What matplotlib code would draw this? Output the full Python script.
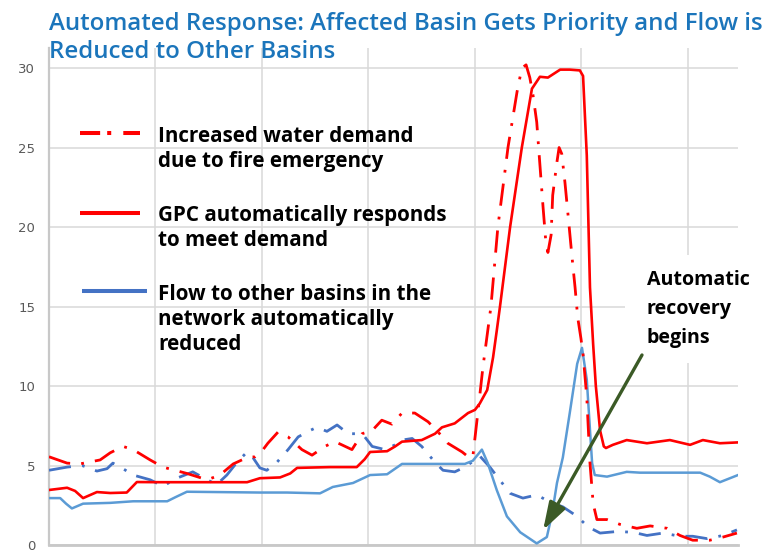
import matplotlib
matplotlib.use("Agg")
import matplotlib.pyplot as plt
from matplotlib.lines import Line2D
from matplotlib.patches import Rectangle

# ---------------- data (time steps, gridline every 20 steps) ----------------
demand_t = [0, 3.4, 5.8, 9.6, 11.5, 13.9, 15.8, 19.0, 21.4, 25.9, 29.7, 32.1, 34.6, 37.2,
            38.7, 40.2, 41.1, 43.0, 44.9, 47.5, 49.4, 51.8, 53.7, 55.0, 56.9, 58.8, 60.7,
            62.5, 64.4, 66.3, 68.7, 71.2, 73.1, 74.9, 77.6, 79.1, 79.6, 80.6, 81.5, 83.0,
            84.3, 86.2, 87.9, 88.8, 89.6, 90.3, 90.9, 91.6, 92.2, 92.8, 93.3, 93.7, 94.3,
            94.6, 95.4, 95.8, 96.3, 96.9, 97.5, 98.2, 98.8, 99.3, 99.9, 100.3, 101.0, 101.6,
            102.2, 102.9, 104.8, 107.2, 110.4, 112.9, 116.1, 118.5, 120.9, 124.1, 126.6, 129.2]
demand_v = [5.55, 5.15, 5.1, 5.35, 5.8, 6.2, 6.0, 5.35, 4.9, 4.5, 4.1, 4.4, 5.1, 5.5,
            5.55, 6.0, 6.4, 7.1, 6.8, 6.0, 5.65, 6.2, 6.5, 6.3, 6.0, 7.0, 7.2,
            7.85, 7.6, 8.3, 8.3, 7.75, 7.1, 6.4, 5.85, 5.45, 5.55, 8.5, 11.2, 15.0,
            20.0, 25.0, 28.5, 30.0, 30.2, 29.4, 28.3, 26.6, 23.9, 21.2, 19.1, 18.4, 19.5,
            22.0, 24.1, 25.0, 24.6, 22.8, 20.7, 18.2, 16.2, 14.3, 13.0, 12.0, 9.3, 5.15,
            2.6, 1.6, 1.6, 1.3, 1.05, 1.2, 1.05, 0.6, 0.3, 0.3, 0.5, 0.75]

gpc_t = [0, 3.4, 4.9, 6.4, 9.0, 11.5, 14.6, 16.5, 20.8, 28.4, 37.2, 39.6, 43.4, 45.3, 46.6,
         52.8, 57.8, 59.3, 60.3, 63.5, 65.0, 66.3, 70.0, 72.5, 73.8, 76.2, 78.7, 80.0, 80.9,
         82.3, 83.4, 84.1, 84.7, 86.6, 88.8, 90.7, 92.2, 93.7, 96.0, 97.8, 99.7, 100.3,
         101.0, 101.6, 102.2, 102.7, 103.5, 104.2, 104.6, 105.9, 108.5, 112.3, 116.6,
         120.4, 122.8, 126.0, 129.2]
gpc_v = [3.46, 3.6, 3.4, 2.95, 3.33, 3.27, 3.3, 3.96, 3.95, 3.95, 3.95, 4.2, 4.25, 4.5, 4.85,
         4.9, 4.9, 5.4, 5.85, 5.9, 6.2, 6.5, 6.6, 7.0, 7.4, 7.65, 8.3, 8.5, 8.9,
         9.75, 11.8, 13.5, 15.0, 20.0, 25.0, 28.7, 29.45, 29.4, 29.9, 29.9, 29.85, 29.5,
         24.5, 16.2, 12.6, 10.0, 7.2, 6.2, 6.1, 6.3, 6.6, 6.4, 6.6,
         6.3, 6.6, 6.4, 6.45]

flow_t = [0, 2.1, 3.2, 4.3, 6.4, 11.5, 15.8, 22.2, 23.7, 25.9, 39.6, 44.7, 50.9, 53.3, 57.1,
          60.3, 63.5, 66.3, 73.8, 78.1, 79.6, 81.3, 82.4, 84.1, 86.0, 88.5, 91.6, 93.5,
          94.5, 95.4, 96.5, 97.8, 99.2, 100.1, 101.0, 102.0, 102.5, 104.8, 108.5, 111.0,
          122.3, 124.1, 126.0, 129.4]
flow_v = [2.95, 2.95, 2.6, 2.3, 2.6, 2.65, 2.75, 2.75, 3.0, 3.35, 3.3, 3.3, 3.25, 3.65, 3.9,
          4.4, 4.45, 5.1, 5.1, 5.1, 5.3, 6.0, 5.15, 3.45, 1.8, 0.8, 0.1, 0.5,
          2.0, 3.9, 5.5, 8.3, 11.4, 12.4, 10.4, 5.15, 4.4, 4.3, 4.6, 4.55,
          4.55, 4.3, 3.95, 4.4]

other_t = [0, 3.4, 6.2, 9.0, 10.9, 12.0, 13.9, 15.8, 19.0, 21.4, 24.0, 27.0, 29.7, 31.5,
           33.4, 35.3, 37.2, 38.3, 39.6, 40.9, 42.8, 44.9, 46.8, 49.0, 50.3, 52.2, 54.1,
           56.2, 58.4, 59.3, 60.7, 63.1, 65.0, 66.3, 68.2, 70.0, 72.5, 74.0, 76.2, 78.1,
           80.0, 80.9, 82.8, 85.1, 86.6, 89.0, 91.6, 94.1, 96.5, 99.2, 101.2, 103.5,
           106.7, 109.7, 112.3, 115.3, 118.5, 120.9, 123.6, 126.6, 129.2]
other_v = [4.7, 4.9, 5.0, 4.65, 4.8, 5.15, 4.8, 4.4, 4.1, 3.7, 4.2, 4.6, 4.1, 3.8,
           4.4, 5.2, 5.85, 5.5, 4.85, 4.7, 5.2, 6.0, 6.8, 7.2, 7.4, 7.15, 7.55,
           7.0, 7.0, 6.8, 6.2, 6.0, 6.3, 6.6, 6.7, 6.2, 5.2, 4.7, 4.6, 4.9,
           5.35, 5.6, 4.9, 3.9, 3.25, 2.95, 3.15, 2.7, 2.4, 1.8, 1.15, 0.75,
           0.85, 0.8, 0.6, 0.75, 0.55, 0.55, 0.4, 0.6, 0.95]

y_ticks = [0, 5, 10, 15, 20, 25, 30]
x_grid = [20, 40, 60, 80, 100, 120]

title_lines = ["Automated Response: Affected Basin Gets Priority and Flow is",
               "Reduced to Other Basins"]
legend_entries = [
    ["Increased water demand", "due to fire emergency"],
    ["GPC automatically responds", "to meet demand"],
    ["Flow to other basins in the", "network automatically", "reduced"],
]
note_lines = ["Automatic", "recovery", "begins"]

# ---------------- figure ----------------
W, H = 770, 556
fig = plt.figure(figsize=(W / 100, H / 100), dpi=100, facecolor="white")


def fx(px):
    return px / W


def fy(py):
    return 1 - py / H


ax = fig.add_axes([fx(49), fy(545), fx(738) - fx(49), fy(48) - fy(545)])
ax.set_xlim(0, 129.4)
ax.set_ylim(0, 31.26)
ax.set_yticks(y_ticks)
ax.set_xticks(x_grid)
ax.set_xticklabels([])
ax.tick_params(axis="x", length=0)
ax.tick_params(axis="y", length=0, pad=10, labelsize=9.5, labelcolor="#595959")
ax.grid(True, color="#D9D9D9", lw=1.1)
ax.set_axisbelow(True)
for s in ["top", "right"]:
    ax.spines[s].set_visible(False)
ax.spines["left"].set_color("#C8C8C8")
ax.spines["left"].set_linewidth(1.6)
ax.spines["bottom"].set_color("#C8C8C8")
ax.spines["bottom"].set_linewidth(2.0)

RED = "#FF0000"
BLUE_D = "#4472C4"
BLUE_L = "#5B9BD5"
dashdot = (0, (8, 4, 1, 4))

ax.plot(other_t, other_v, color=BLUE_D, lw=2.0, linestyle=dashdot, zorder=3)
ax.plot(flow_t, flow_v, color=BLUE_L, lw=1.8, zorder=3.2, solid_joinstyle="round")
ax.plot(gpc_t, gpc_v, color=RED, lw=1.9, zorder=3.4, solid_joinstyle="round")
ax.plot(demand_t, demand_v, color=RED, lw=2.0, linestyle=dashdot, zorder=3.6)

# white box behind the annotation text (covers grid)
ax.add_patch(Rectangle((fx(625), fy(363)), fx(770) - fx(625), fy(255) - fy(363),
                       transform=fig.transFigure, facecolor="white", edgecolor="none",
                       zorder=1, clip_on=False))

renderer = fig.canvas.get_renderer()


def fit_size(text, family, weight, target_px, base=12.0):
    t = fig.text(0, 0, text, fontsize=base, family=family, weight=weight)
    w = t.get_window_extent(renderer=renderer).width
    t.remove()
    return base * target_px / w


FONT = ["Open Sans", "DejaVu Sans"]

# title
ts = fit_size(title_lines[0], FONT, "semibold", 716)
for line, base in zip(title_lines, [30, 58]):
    fig.text(fx(49), fy(base), line, fontsize=ts, family=FONT, weight="semibold",
             color="#1B75BB", va="baseline", ha="left")

# legend
ls = fit_size(legend_entries[2][0], FONT, "bold", 273)
keys = [
    dict(x=(80, 140), y=133, color=RED, ls=(0, (5, 1.75, 1, 3))),
    dict(x=(80, 140), y=213, color=RED, ls="-"),
    dict(x=(82, 147), y=291, color=BLUE_D, ls="-"),
]
baselines = [[141.5, 167], [221, 246.5], [300, 325, 350]]
for k, lines, bls in zip(keys, legend_entries, baselines):
    fig.add_artist(Line2D([fx(k["x"][0]), fx(k["x"][1])], [fy(k["y"]), fy(k["y"])],
                          transform=fig.transFigure, color=k["color"], lw=2.9,
                          linestyle=k["ls"], solid_capstyle="butt", dash_capstyle="butt"))
    for line, b in zip(lines, bls):
        fig.text(fx(158), fy(b), line, fontsize=ls, family=FONT, weight="bold",
                 color="black", va="baseline", ha="left")

# annotation
ns = fit_size(note_lines[0], FONT, "bold", 103)
for line, b in zip(note_lines, [285, 314, 343]):
    fig.text(fx(647), fy(b), line, fontsize=ns, family=FONT, weight="bold",
             color="black", va="baseline", ha="left", zorder=5)

ax.annotate("", xy=(92.8, 0.94), xycoords="data",
            xytext=(fx(642), fy(355)), textcoords="figure fraction",
            arrowprops=dict(arrowstyle="-|>,head_length=1.4,head_width=0.45",
                            lw=2.4, color="#3B5A26", shrinkA=0, shrinkB=0,
                            mutation_scale=12),
            zorder=6, annotation_clip=False)

fig.savefig("out.png", dpi=100, facecolor="white")
